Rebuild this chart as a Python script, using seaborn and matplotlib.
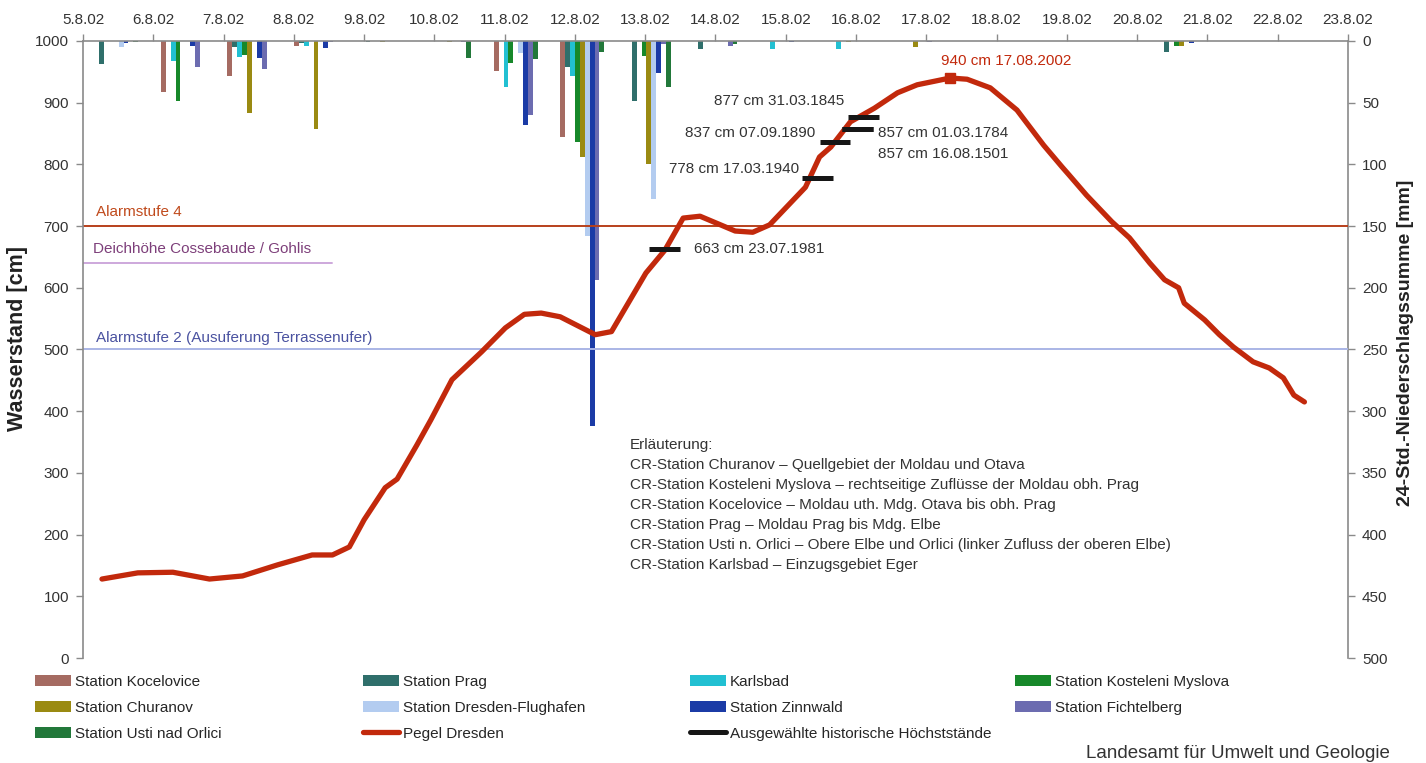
import numpy as np
import pandas as pd
import matplotlib
matplotlib.use('Agg')
import matplotlib.pyplot as plt
from matplotlib.patches import Patch
from matplotlib.lines import Line2D
import seaborn as sns

# bar categories (one per day, 5.8. - 23.8.2002)
days = ['05.08.', '06.08.', '07.08.', '08.08.', '09.08.', '10.08.', '11.08.',
        '12.08.', '13.08.', '14.08.', '15.08.', '16.08.', '17.08.', '18.08.',
        '19.08.', '20.08.', '21.08.', '22.08.', '23.08.']
date_ticks = ['5.8.02', '6.8.02', '7.8.02', '8.8.02', '9.8.02', '10.8.02', '11.8.02',
              '12.8.02', '13.8.02', '14.8.02', '15.8.02', '16.8.02', '17.8.02',
              '18.8.02', '19.8.02', '20.8.02', '21.8.02', '22.8.02', '23.8.02']

# 24h precipitation [mm]
kocelovice = [0, 41, 28, 4, 0, 0, 24, 78, 0, 0, 0, 0, 0, 0, 0, 0, 0, 0, 0]
prag = [19, 0, 5, 2, 0.5, 0, 0, 21, 49, 6.5, 0, 0, 0, 0, 0, 0, 9, 0, 0]
karlsbad = [0, 16, 13, 4, 0, 0, 37, 28, 0, 0, 6.5, 6.5, 0, 0, 0, 0, 0, 0, 0]
kosteleni = [0, 49, 11, 0, 0, 0, 18, 82, 12, 0, 0, 0, 0, 0, 0, 0, 4, 0, 0]
churanov = [0, 0, 58, 71, 0.5, 0.5, 0, 94, 100, 0, 0, 0.5, 5, 0, 0, 0, 4, 0, 0]
dresden = [5, 0, 0, 0, 0, 0, 10, 158, 128, 0, 0, 0, 0, 0, 0, 0, 0, 0, 0]
zinnwald = [1.5, 4, 14, 6, 0, 0, 68, 312, 26, 0, 1, 0, 0, 0, 0, 0, 2, 0, 0]
fichtelberg = [0, 21, 23, 1, 0, 1, 60, 194, 2.5, 4, 0, 0, 0.5, 0, 0, 0, 0, 0, 0]
usti = [1, 0, 0, 0, 0, 14, 15, 9, 37, 2.5, 0, 0, 0, 0, 0, 0, 0, 0, 0]

stations = ['Station Kocelovice', 'Station Prag', 'Karlsbad', 'Station Kosteleni Myslova',
            'Station Churanov', 'Station Dresden-Flughafen', 'Station Zinnwald',
            'Station Fichtelberg', 'Station Usti nad Orlici']
rain_series = [kocelovice, prag, karlsbad, kosteleni, churanov, dresden, zinnwald,
               fichtelberg, usti]
station_colors = ['#A56B62', '#2F6F6B', '#22C0D2', '#17882A', '#9A8A12', '#B3CCF0',
                  '#1B3BA6', '#6C6CB0', '#22783A']

# Pegel Dresden: time in days after 5.8.2002 00:00, water level [cm]
pegel_day = [0.27, 0.78, 1.28, 1.80, 2.27, 2.77, 3.26, 3.55, 3.79, 4.00, 4.30, 4.47,
             4.75, 4.95, 5.25, 5.67, 6.01, 6.28, 6.52, 6.79, 7.29, 7.52, 8.01, 8.28,
             8.54, 8.78, 9.28, 9.53, 9.77, 10.28, 10.48, 10.64, 10.92, 11.26, 11.59,
             11.87, 12.34, 12.58, 12.91, 13.29, 13.67, 13.93, 14.03, 14.28, 14.64,
             14.89, 15.18, 15.39, 15.59, 15.67, 15.96, 16.17, 16.37, 16.65, 16.88,
             17.08, 17.23, 17.38]
pegel_cm = [128, 138, 139, 128, 133, 151, 167, 167, 180, 224, 276, 290, 345, 386, 451,
            496, 535, 557, 559, 553, 524, 529, 624, 661, 713, 716, 692, 690, 702, 763,
            812, 828, 869, 891, 916, 929, 940, 938, 924, 888, 831, 796, 783, 750, 707,
            681, 640, 613, 600, 575, 548, 524, 504, 480, 470, 454, 426, 415]

# historic maxima
hist_cm = [663, 778, 837, 857, 857, 877]
hist_date = ['23.07.1981', '17.03.1940', '07.09.1890', '01.03.1784', '16.08.1501', '31.03.1845']
hist_day = [8.28, 10.45, 10.70, 11.02, 11.02, 11.11]

alarm4_cm = 700
alarm2_cm = 500
deich_cm = 640
deich_end_day = 3.55

notes = ['Erläuterung:',
         'CR-Station Churanov – Quellgebiet der Moldau und Otava',
         'CR-Station Kosteleni Myslova – rechtseitige Zuflüsse der Moldau obh. Prag',
         'CR-Station Kocelovice – Moldau uth. Mdg. Otava bis obh. Prag',
         'CR-Station Prag – Moldau Prag bis Mdg. Elbe',
         'CR-Station Usti n. Orlici – Obere Elbe und Orlici (linker Zufluss der oberen Elbe)',
         'CR-Station Karlsbad – Einzugsgebiet Eger']

sns.set_theme(style='white')
plt.rcParams['font.family'] = ['Liberation Sans', 'DejaVu Sans']
plt.rcParams['font.size'] = 11

txt = '#333333'
grey = '#8a8a8a'
pegel_col = '#C2290C'

fig, ax = plt.subplots(figsize=(14.26, 7.63), dpi=100)
fig.subplots_adjust(left=0.0582, right=0.9453, top=0.9463, bottom=0.1376)
ax2 = ax.twinx()
ax3 = ax2.twiny()

# precipitation bars
rain = pd.DataFrame({'day': days * len(stations),
                     'station': np.repeat(stations, len(days)),
                     'mm': np.concatenate(rain_series)})
sns.barplot(data=rain, x='day', y='mm', hue='station', order=days, hue_order=stations,
            palette=dict(zip(stations, station_colors)), width=0.66, gap=0,
            saturation=1, errorbar=None, legend=False, edgecolor='none', linewidth=0,
            ax=ax3)
ax3.set_xlim(-0.5, len(days) - 0.5)
ax3.set_xticks([])
ax3.set_xlabel('')
ax3.set_ylabel('')
ax2.set_ylim(500, 0)
ax2.set_yticks(range(0, 501, 50))
ax2.set_ylabel('')

# water level
ax.set_zorder(3)
ax.patch.set_visible(False)
ax.axhline(alarm4_cm, color='#B8401C', lw=1.4)
ax.axhline(alarm2_cm, color='#AAB6E6', lw=1.4)
ax.plot([0, deich_end_day], [deich_cm, deich_cm], color='#CDA8DC', lw=1.4)
ax.annotate('Alarmstufe 4', (0.184, alarm4_cm), xytext=(0, 10), textcoords='offset points',
            va='center', ha='left', color='#C04A1C', fontsize=11)
ax.annotate('Deichhöhe Cossebaude / Gohlis', (0.142, deich_cm), xytext=(0, 10),
            textcoords='offset points', va='center', ha='left', color='#7D3F7A', fontsize=11)
ax.annotate('Alarmstufe 2 (Ausuferung Terrassenufer)', (0.184, alarm2_cm), xytext=(0, 8.3),
            textcoords='offset points', va='center', ha='left', color='#4A52A0', fontsize=11)

sns.lineplot(x=pegel_day, y=pegel_cm, ax=ax, color=pegel_col, lw=3.8, sort=False,
             estimator=None)
ipk = int(np.argmax(pegel_cm))
ax.plot(pegel_day[ipk], pegel_cm[ipk], marker='s', ms=7, color=pegel_col)
ax.annotate(f'{pegel_cm[ipk]} cm 17.08.2002', (pegel_day[ipk], pegel_cm[ipk]),
            xytext=(-6.5, 12), textcoords='offset points', ha='left', va='center',
            color=pegel_col, fontsize=11)

# label offsets (points) for the historic marks
hist_offsets = [(21, 0, 'left'), (-13, 6.5, 'right'), (-14.4, 6.5, 'right'),
                (15, -3, 'left'), (15, -17.5, 'left'), (-14.4, 11.5, 'right')]
for d, cm, dt, (dx, dy, ha) in zip(hist_day, hist_cm, hist_date, hist_offsets):
    ax.plot([d - 0.22, d + 0.22], [cm, cm], color='#161616', lw=3.6, solid_capstyle='butt')
    ax.annotate(f'{cm} cm {dt}', (d, cm), xytext=(dx, dy), textcoords='offset points',
                ha=ha, va='center', color=txt, fontsize=11)

ax.set_xlim(0, len(date_ticks) - 1)
ax.set_ylim(0, 1000)
ax.set_yticks(range(0, 1001, 100))
ax.set_xticks(range(len(date_ticks)))
ax.set_xticklabels(date_ticks)
ax.xaxis.tick_top()
ax.set_xlabel('')
ax.set_ylabel('')
ax.tick_params(axis='x', top=True, bottom=False, labeltop=True, labelbottom=False,
               direction='out', length=5, width=1, color=grey, labelcolor=txt,
               labelsize=11, pad=5)
ax.tick_params(axis='y', left=True, direction='out', length=5, width=1, color=grey,
               labelcolor=txt, labelsize=11, pad=5)
ax2.tick_params(axis='y', right=True, direction='out', length=5, width=1, color=grey,
                labelcolor=txt, labelsize=11, pad=5)

for a in (ax, ax2, ax3):
    for s in a.spines.values():
        s.set_visible(False)
for s in ('left', 'top'):
    ax.spines[s].set_visible(True)
    ax.spines[s].set_color(grey)
    ax.spines[s].set_linewidth(1.2)
ax2.spines['right'].set_visible(True)
ax2.spines['right'].set_color(grey)
ax2.spines['right'].set_linewidth(1.2)

fig.text(18 / 1426, 1 - 338 / 763, 'Wasserstand [cm]', rotation=90, ha='center',
         va='center', fontsize=15.5, fontweight='bold', color='#222222')
fig.text(1406 / 1426, 1 - 343 / 763, '24-Std.-Niederschlagssumme [mm]', rotation=90,
         ha='center', va='center', fontsize=14, fontweight='bold', color='#222222')

for i, line in enumerate(notes):
    fig.text(630 / 1426, 1 - (445 + 20 * i) / 763, line, ha='left', va='center',
             fontsize=11, color=txt)

fig.text(1390 / 1426, 1 - 753 / 763, 'Landesamt für Umwelt und Geologie', ha='right',
         va='center', fontsize=13.5, color=txt)

# legend, four columns
patch = {s: Patch(facecolor=c, edgecolor='none') for s, c in zip(stations, station_colors)}
pegel_h = Line2D([], [], color=pegel_col, lw=3.8)
hist_h = Line2D([], [], color='#161616', lw=3.6)
columns = [
    (35, [patch[stations[0]], patch[stations[4]], patch[stations[8]]],
     [stations[0], stations[4], stations[8]]),
    (363, [patch[stations[1]], patch[stations[5]], pegel_h],
     [stations[1], stations[5], 'Pegel Dresden']),
    (690, [patch[stations[2]], patch[stations[6]], hist_h],
     [stations[2], stations[6], 'Ausgewählte historische Höchststände']),
    (1015, [patch[stations[3]], patch[stations[7]]], [stations[3], stations[7]]),
]
for x0, hs, ls in columns:
    fig.legend(hs, ls, loc='upper left', bbox_to_anchor=(x0 / 1426, 1 - 675 / 763),
               frameon=False, borderpad=0, borderaxespad=0, handlelength=2.36,
               handleheight=0.7, handletextpad=0.25, labelspacing=0.78, fontsize=11,
               labelcolor='#262626')

fig.savefig('out.png', dpi=100)
